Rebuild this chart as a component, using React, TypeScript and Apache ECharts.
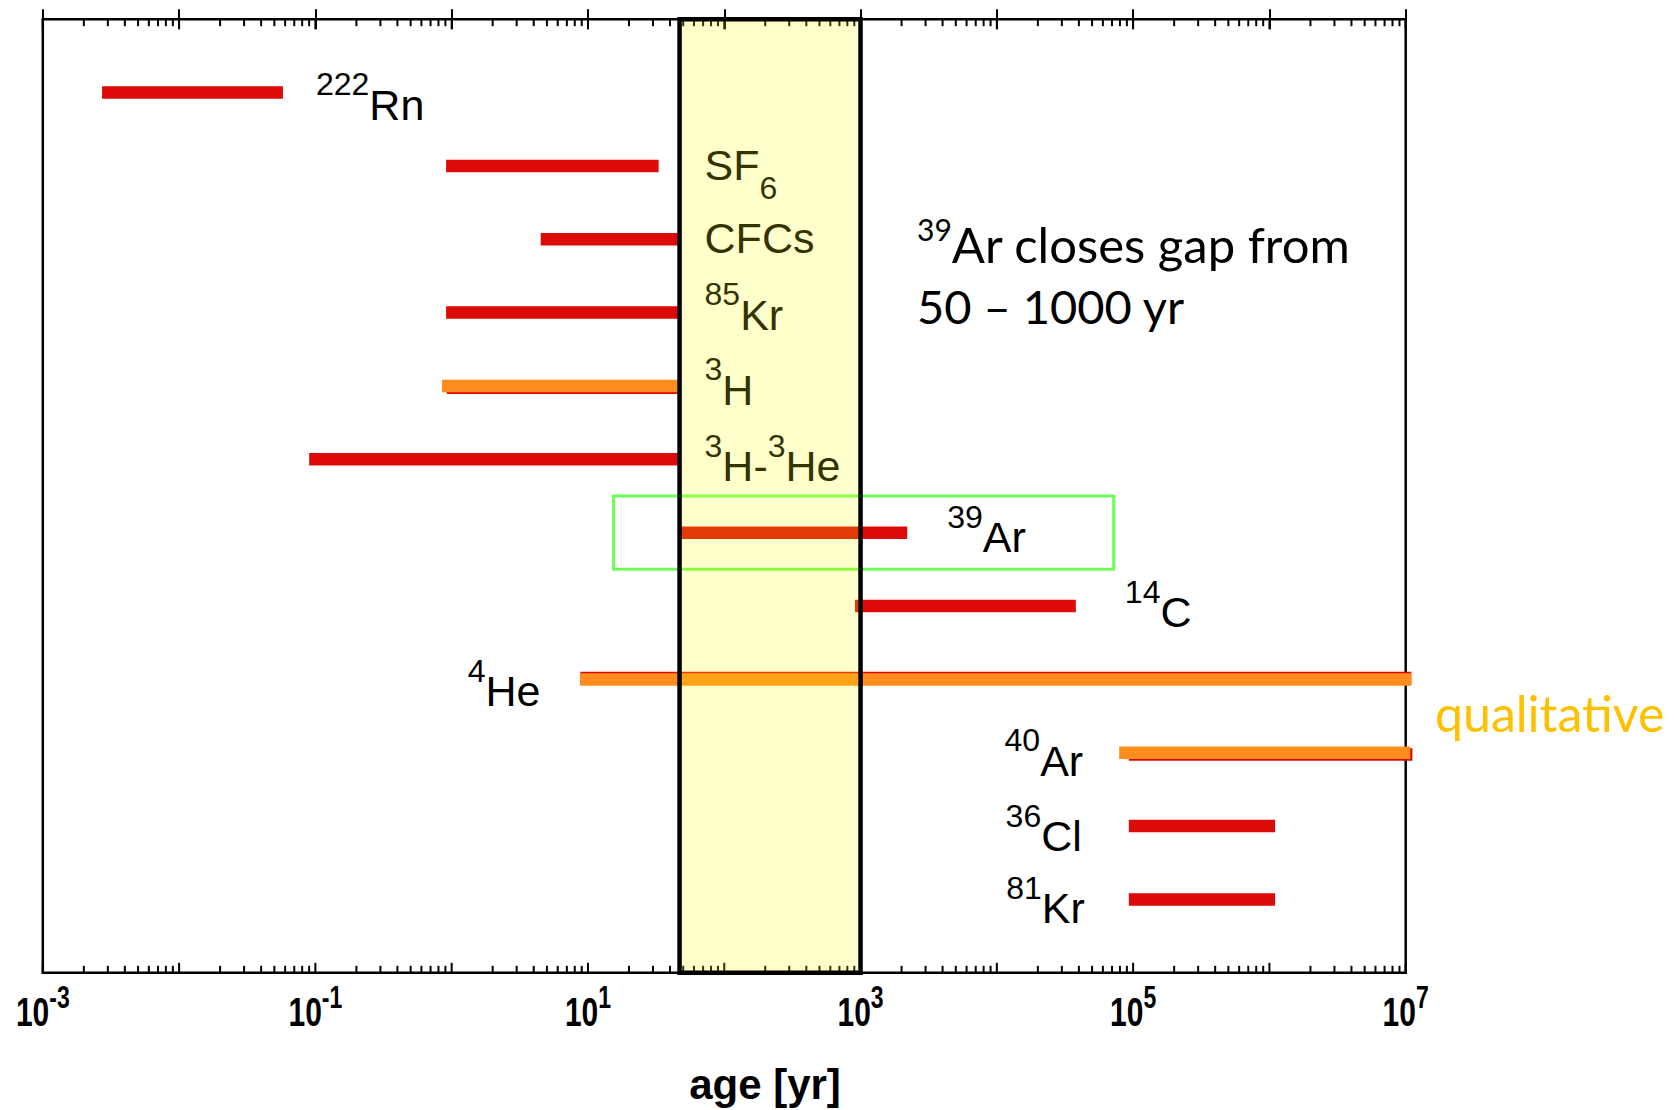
import React, { useEffect, useRef } from 'react';
import * as echarts from 'echarts';

// ---------------- data ----------------
const ISOTOPES = ['^{222}Rn', 'SF_{6}', 'CFCs', '^{85}Kr', '^{3}H', '^{3}H-^{3}He', '^{39}Ar', '^{14}C', '^{4}He', '^{40}Ar', '^{36}Cl', '^{81}Kr'];
const ROW_INDEX = [1, 2, 3, 4, 5, 6, 7, 8, 9, 10, 11, 12];
// red (quantitative) age range [yr]
const RANGE_LO = [0.00272, 0.91, 4.5, 0.91, 0.92, 0.09, 47, 910, 8.8, 93000, 93000, 93000];
const RANGE_HI = [0.0578, 33, 47, 47, 47, 47, 2200, 38000, 1.1e7, 1.12e7, 1.1e6, 1.1e6];
// orange (qualitative) age range [yr]
const QUAL_LO = [null, null, null, null, 0.85, null, null, null, 8.8, 79000, null, null];
const QUAL_HI = [null, null, null, null, 47, null, null, null, 1.1e7, 1.08e7, null, null];
// gap closed by 39Ar (as drawn)
const GAP_RANGE = [47, 1000];
const HIGHLIGHT_X = [15.4, 72000];
const HIGHLIGHT_Y = [6.5, 7.5];
// axis
const X_MIN = 1e-3;
const X_MAX = 1e7;
const Y_MIN = 0;
const Y_MAX = 13;
const DECADE_EXPONENTS = [-3, -2, -1, 0, 1, 2, 3, 4, 5, 6, 7];
const LABELED_EXPONENTS = [-3, -1, 1, 3, 5, 7];
const MINOR_MULTIPLES = [2, 3, 4, 5, 6, 7, 8, 9];

// ---------------- layout / style ----------------
const RED = '#DD0A0A';
const ORANGE = '#FF8C1E';
const BAR_H = 12.5;
const RED_SHIFT = [0, 0, 0, 0, 1.8, 0, 0, 0, -1.5, 1.8, 0, 0];
const LABEL_LAYOUT = [
  { side: 'right', gap: 33, dy: 12 },
  { side: 'band', gap: 25, dy: -1 },
  { side: 'band', gap: 25, dy: -1 },
  { side: 'band', gap: 25, dy: 2 },
  { side: 'band', gap: 25, dy: 4 },
  { side: 'band', gap: 25, dy: 7 },
  { side: 'right', gap: 40, dy: 4.5 },
  { side: 'right', gap: 49, dy: 6 },
  { side: 'left', gap: 40, dy: 12 },
  { side: 'left', gap: 36, dy: 8 },
  { side: 'left', gap: 47, dy: 10 },
  { side: 'left', gap: 44, dy: 9 },
];

const ARIAL = 'Liberation Sans';
const CALIBRI = 'Lato';

type TextCfg = { family: string; weight: string; base: number; small: number; supDy: number; subDy: number; color: string; scaleY?: number };
const LABEL_CFG: TextCfg = { family: ARIAL, weight: 'normal', base: 43, small: 32, supDy: -20.5, subDy: 23, color: '#000' };
const NOTE_CFG1: TextCfg = { family: CALIBRI, weight: 'normal', base: 49, small: 30, supDy: -15, subDy: 14, color: '#000' };
const NOTE_CFG2: TextCfg = { family: CALIBRI, weight: 'normal', base: 47, small: 28, supDy: -14, subDy: 14, color: '#000' };
const TICK_CFG: TextCfg = { family: ARIAL, weight: 'bold', base: 30, small: 23, supDy: -16, subDy: 0, color: '#000', scaleY: 1.35 };
const TICK_LABEL_OFFSET = 40;

let measureCanvas: HTMLCanvasElement | null = null;
function measure(text: string, font: string): number {
  if (!measureCanvas) measureCanvas = document.createElement('canvas');
  const ctx = measureCanvas.getContext('2d')!;
  ctx.font = font;
  return ctx.measureText(text).width;
}

type Part = { t: string; k: 'b' | 'sup' | 'sub' };
function parseMarkup(s: string): Part[] {
  const parts: Part[] = [];
  const re = /([\^_])\{([^}]*)\}|([^\^_]+)/g;
  let m: RegExpExecArray | null;
  while ((m = re.exec(s))) {
    if (m[1]) parts.push({ t: m[2], k: m[1] === '^' ? 'sup' : 'sub' });
    else parts.push({ t: m[3], k: 'b' });
  }
  return parts;
}

function buildText(markup: string, x: number, y: number, align: 'left' | 'right' | 'center', cfg: TextCfg): any[] {
  const parts = parseMarkup(markup);
  const sizes = parts.map((p) => (p.k === 'b' ? cfg.base : cfg.small));
  const widths = parts.map((p, j) => measure(p.t, `${cfg.weight} ${sizes[j]}px "${cfg.family}"`));
  const total = widths.reduce((a, b) => a + b, 0);
  let cx = align === 'left' ? x : align === 'right' ? x - total : x - total / 2;
  return parts.map((p, j) => {
    const dy = p.k === 'sup' ? cfg.supDy : p.k === 'sub' ? cfg.subDy : 0;
    const el: any = {
      type: 'text',
      x: cx,
      y: y + dy,
      style: {
        text: p.t,
        fill: cfg.color,
        fontSize: sizes[j],
        fontFamily: cfg.family,
        fontWeight: cfg.weight,
        align: 'left',
        verticalAlign: 'middle',
      },
    };
    if (cfg.scaleY) el.scaleY = cfg.scaleY;
    cx += widths[j];
    return el;
  });
}

const barData = ROW_INDEX.map((r, i) => [RANGE_LO[i], RANGE_HI[i], r]);
const tickData: number[][] = [];
DECADE_EXPONENTS.forEach((e) => {
  tickData.push([Math.pow(10, e), 1]);
  if (e < DECADE_EXPONENTS[DECADE_EXPONENTS.length - 1]) {
    MINOR_MULTIPLES.forEach((m) => tickData.push([m * Math.pow(10, e), 0]));
  }
});
const tickLabelData = LABELED_EXPONENTS.map((e) => [Math.pow(10, e), e]);

function buildOption(): any {
  const axisCommon = {
    type: 'log',
    logBase: 10,
    min: X_MIN,
    max: X_MAX,
    interval: 1,
    splitLine: { show: false },
    axisLine: { show: false },
    axisLabel: { show: false },
    axisTick: { show: true, inside: false, length: 10, lineStyle: { color: '#000', width: 2 } },
  };
  return {
    animation: false,
    grid: {
      left: 42.8,
      top: 19.2,
      width: 1362.9,
      height: 953.6,
      show: true,
      borderColor: '#000',
      borderWidth: 2.5,
      backgroundColor: 'rgba(0,0,0,0)',
      containLabel: false,
      outerBoundsMode: 'none',
    },
    xAxis: [
      { ...axisCommon, position: 'bottom' },
      { ...axisCommon, position: 'top' },
    ],
    yAxis: { type: 'value', min: Y_MIN, max: Y_MAX, inverse: true, show: false },
    graphic: [
      ...buildText('^{39}Ar closes gap from', 917, 244, 'left', NOTE_CFG1),
      ...buildText('50 – 1000 yr', 917, 306, 'left', NOTE_CFG2),
      {
        type: 'text',
        x: 1435,
        y: 713,
        style: { text: 'qualitative', fill: '#FFC000', fontSize: 50, fontFamily: CALIBRI, align: 'left', verticalAlign: 'middle' },
      },
      {
        type: 'text',
        x: 765,
        y: 1084,
        style: { text: 'age [yr]', fill: '#000', fontSize: 42, fontWeight: 'bold', fontFamily: ARIAL, align: 'center', verticalAlign: 'middle' },
      },
    ],
    series: [
      {
        type: 'custom',
        name: 'ranges',
        z: 2,
        silent: true,
        data: barData,
        encode: { x: [0, 1], y: 2 },
        renderItem: (params: any, api: any) => {
          const i = params.dataIndex;
          const row = api.value(2);
          const p0 = api.coord([api.value(0), row]);
          const p1 = api.coord([api.value(1), row]);
          const children: any[] = [];
          children.push({
            type: 'rect',
            shape: { x: p0[0], y: p0[1] - BAR_H / 2 + RED_SHIFT[i], width: p1[0] - p0[0], height: BAR_H },
            style: { fill: RED },
          });
          let left = p0[0];
          let right = p1[0];
          if (QUAL_LO[i] != null && QUAL_HI[i] != null) {
            const q0 = api.coord([QUAL_LO[i], row]);
            const q1 = api.coord([QUAL_HI[i], row]);
            children.push({
              type: 'rect',
              shape: { x: q0[0], y: q0[1] - BAR_H / 2, width: q1[0] - q0[0], height: BAR_H },
              style: { fill: ORANGE },
            });
            left = Math.min(left, q0[0]);
            right = Math.max(right, q1[0]);
          }
          const lay = LABEL_LAYOUT[i];
          const ly = p0[1] + lay.dy;
          let texts: any[];
          if (lay.side === 'right') texts = buildText(ISOTOPES[i], right + lay.gap, ly, 'left', LABEL_CFG);
          else if (lay.side === 'left') texts = buildText(ISOTOPES[i], left - lay.gap, ly, 'right', LABEL_CFG);
          else {
            const bx = api.coord([GAP_RANGE[0], row])[0];
            texts = buildText(ISOTOPES[i], bx + lay.gap, ly, 'left', LABEL_CFG);
          }
          return { type: 'group', children: children.concat(texts) };
        },
      },
      {
        type: 'custom',
        name: 'highlight',
        z: 3,
        silent: true,
        data: [[HIGHLIGHT_X[0], HIGHLIGHT_X[1], HIGHLIGHT_Y[0], HIGHLIGHT_Y[1]]],
        encode: { x: [0, 1], y: [2, 3] },
        renderItem: (params: any, api: any) => {
          const a = api.coord([api.value(0), api.value(2)]);
          const b = api.coord([api.value(1), api.value(3)]);
          return {
            type: 'rect',
            shape: { x: a[0], y: a[1], width: b[0] - a[0], height: b[1] - a[1] },
            style: { fill: 'none', stroke: '#6CFF5A', lineWidth: 3 },
          };
        },
      },
      {
        type: 'custom',
        name: 'ticks',
        z: 3,
        silent: true,
        data: tickData,
        encode: { x: 0 },
        renderItem: (params: any, api: any) => {
          const v = api.value(0);
          const major = api.value(1) === 1;
          const len = major ? 10 : 7;
          const top = api.coord([v, Y_MIN]);
          const bot = api.coord([v, Y_MAX]);
          const ls = { stroke: '#000', lineWidth: 2 };
          return {
            type: 'group',
            children: [
              { type: 'line', shape: { x1: top[0], y1: top[1], x2: top[0], y2: top[1] + len }, style: ls },
              { type: 'line', shape: { x1: bot[0], y1: bot[1], x2: bot[0], y2: bot[1] - len }, style: ls },
            ],
          };
        },
      },
      {
        type: 'custom',
        name: 'tickLabels',
        z: 3,
        silent: true,
        clip: false,
        data: tickLabelData,
        encode: { x: 0 },
        renderItem: (params: any, api: any) => {
          const v = api.value(0);
          const e = api.value(1);
          const p = api.coord([v, Y_MAX]);
          return {
            type: 'group',
            children: buildText(`10^{${e}}`, p[0], p[1] + TICK_LABEL_OFFSET, 'center', TICK_CFG),
          };
        },
      },
      {
        type: 'custom',
        name: 'gap',
        z: 5,
        silent: true,
        data: [[GAP_RANGE[0], GAP_RANGE[1], Y_MIN, Y_MAX]],
        encode: { x: [0, 1], y: [2, 3] },
        renderItem: (params: any, api: any) => {
          const a = api.coord([api.value(0), api.value(2)]);
          const b = api.coord([api.value(1), api.value(3)]);
          return {
            type: 'rect',
            shape: { x: a[0], y: a[1], width: b[0] - a[0], height: b[1] - a[1] },
            style: { fill: 'rgba(255,255,0,0.2)', stroke: '#000', lineWidth: 4.5 },
          };
        },
      },
    ],
  };
}

export default function App() {
  const ref = useRef<HTMLDivElement>(null);
  useEffect(() => {
    const chart = echarts.init(ref.current!, null, { renderer: 'svg' });
    chart.setOption(buildOption());
    return () => chart.dispose();
  }, []);
  return (
    <div
      ref={ref}
      style={{ position: 'absolute', left: 0, top: 0, width: 1676, height: 1110, background: '#fff' }}
    />
  );
}
